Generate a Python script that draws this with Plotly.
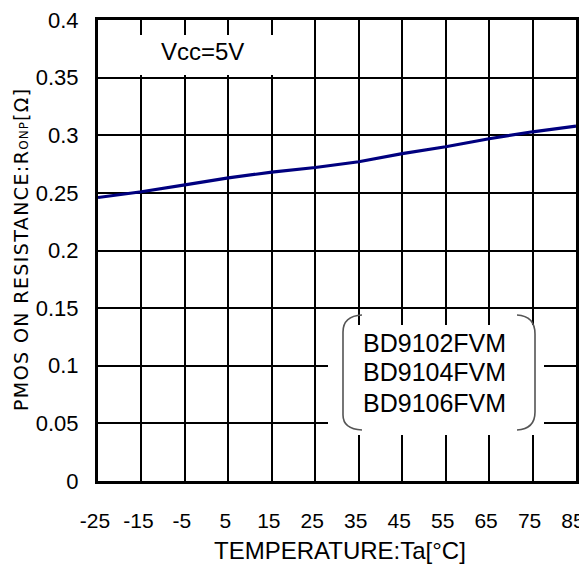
import plotly.graph_objects as go

temperature = [-25, -15, -5, 5, 15, 25, 35, 45, 55, 65, 75, 85]
ron_p = [0.246, 0.251, 0.257, 0.263, 0.268, 0.272, 0.277, 0.284, 0.290, 0.297, 0.303, 0.308]

x_ticks = [-25, -15, -5, 5, 15, 25, 35, 45, 55, 65, 75, 85]
x_tick_text = ["-25", "-15", "-5", "5", "15", "25", "35", "45", "55", "65", "75", "85"]
y_ticks = [0, 0.05, 0.1, 0.15, 0.2, 0.25, 0.3, 0.35, 0.4]
y_tick_text = ["0", "0.05", "0.1", "0.15", "0.2", "0.25", "0.3", "0.35", "0.4"]
devices = ["BD9102FVM", "BD9104FVM", "BD9106FVM"]
condition = "Vcc=5V"

FONT = "Liberation Sans, Arial, sans-serif"

# page body has an 8px default margin; figure is sized so that it fills the window
OFF = 8
W, H = 587 - OFF, 569 - OFF
# plot area in page pixels: x 98..576, y 20..481
L, T = 98 - OFF, 20 - OFF
R = W - (576 - OFF)
B = H - (481 - OFF)
PW = W - L - R
PH = H - T - B


def px(x):
    # x given in page pixels
    return (x - OFF - L) / PW


def py(y):
    # y given in page pixels
    return (H - B - (y - OFF)) / PH


fig = go.Figure()
fig.add_trace(go.Scatter(
    x=temperature, y=ron_p, mode="lines",
    line=dict(color="#00007f", width=3.2),
    showlegend=False, hoverinfo="skip",
))

fig.update_layout(
    width=W, height=H,
    margin=dict(l=L, r=R, t=T, b=B, autoexpand=False),
    paper_bgcolor="white", plot_bgcolor="white",
    font=dict(family=FONT, color="black"),
    showlegend=False,
)
fig.update_xaxes(
    range=[-25, 85], tickvals=x_ticks, ticktext=x_tick_text, ticks="",
    showgrid=True, gridcolor="black", gridwidth=1.5,
    showline=True, linecolor="black", linewidth=3, mirror=True,
    zeroline=False, tickfont=dict(size=21, family=FONT),
    ticklabelstandoff=19, ticklabelshift=-3, ticklabeloverflow="allow",
    automargin=False,
)
fig.update_yaxes(
    range=[0, 0.4], tickvals=y_ticks, ticktext=y_tick_text, ticks="",
    showgrid=True, gridcolor="black", gridwidth=1.5,
    showline=True, linecolor="black", linewidth=3, mirror=True,
    zeroline=False, tickfont=dict(size=22, family=FONT),
    ticklabelstandoff=12, ticklabeloverflow="allow", automargin=False,
)

shapes = []
# white box behind Vcc label
shapes.append(dict(type="rect", xref="paper", yref="paper",
                   x0=px(101), x1=px(298), y0=py(75), y1=py(35),
                   fillcolor="white", line=dict(width=0), layer="above"))
# white box behind device list
shapes.append(dict(type="rect", xref="paper", yref="paper",
                   x0=px(328), x1=px(544), y0=py(435), y1=py(325),
                   fillcolor="white", line=dict(width=0), layer="above"))


def pt(x, y):
    return f"{px(x):.5f},{py(y):.5f}"


left_br = (f"M {pt(362,315)} Q {pt(343,316)} {pt(343,332)} L {pt(343,415)} "
           f"Q {pt(343,429)} {pt(362,430)}")
right_br = (f"M {pt(517,315)} Q {pt(535,316)} {pt(535,334)} L {pt(535,412)} "
            f"Q {pt(535,429)} {pt(517,430)}")
for p in (left_br, right_br):
    shapes.append(dict(type="path", xref="paper", yref="paper", path=p,
                       line=dict(color="#555555", width=1.6), layer="above"))
fig.update_layout(shapes=shapes)

ann = []
ann.append(dict(x=px(202), y=py(52), xref="paper", yref="paper", text=condition,
                showarrow=False, font=dict(size=24, family=FONT),
                xanchor="center", yanchor="middle"))
for name, yy in zip(devices, [343, 372, 403]):
    ann.append(dict(x=px(434), y=py(yy), xref="paper", yref="paper", text=name,
                    showarrow=False, font=dict(size=25, family=FONT),
                    xanchor="center", yanchor="middle"))
ann.append(dict(x=px(340), y=py(550), xref="paper", yref="paper",
                text="TEMPERATURE:Ta[\u00b0C]", showarrow=False,
                font=dict(size=24, family=FONT), xanchor="center", yanchor="middle"))
ann.append(dict(x=px(21), y=py(250), xref="paper", yref="paper",
                text=("<span style='letter-spacing:1.4px'>PMOS ON RESISTANCE:R</span>"
                      "<span style='font-size:12px;letter-spacing:1px'>ONP</span>"
                      "<span style='letter-spacing:1.4px'>[\u03a9]</span>"),
                showarrow=False, textangle=-90,
                font=dict(size=19, family="DejaVu Sans, sans-serif"),
                xanchor="center", yanchor="middle"))
fig.update_layout(annotations=ann)

fig.write_html("out.html")
